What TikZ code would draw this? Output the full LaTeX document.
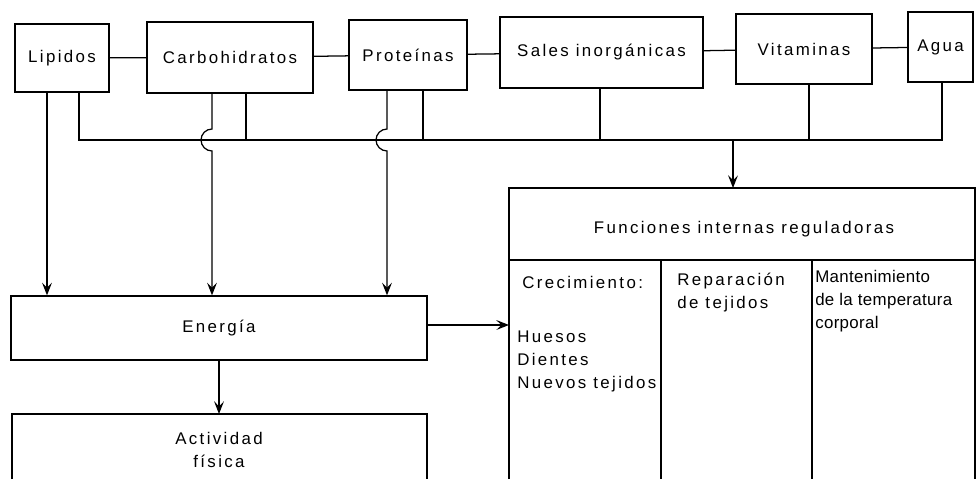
\documentclass[tikz,border=0pt]{standalone}
\usepackage{fontspec}
\setmainfont[LetterSpace=14]{Liberation Sans}
\usetikzlibrary{arrows.meta}

\tikzset{
  caja/.style={draw, line width=0.9pt, inner sep=0pt, font=\fontsize{12}{16}\selectfont},
  texto/.style={inner sep=0pt, font=\fontsize{12}{16.2}\selectfont},
  flecha/.style={line width=0.9pt, -{Stealth[length=9pt,width=7pt,inset=3.5pt]}},
  linea/.style={line width=0.9pt}
}

\begin{document}
\begin{tikzpicture}[x=0.025cm, y=-0.025cm]
    \useasboundingbox (0,0) rectangle (977,479);

    \node[caja, minimum width=2.35cm, minimum height=1.7cm] (lip) at (62,58) {Lipidos};
    \node[caja, minimum width=4.15cm, minimum height=1.775cm] (car) at (230,57.5) {Carbohidratos};
    \node[caja, minimum width=2.95cm, minimum height=1.75cm] (pro) at (408,55) {Proteínas};
    \node[caja, minimum width=5.075cm, minimum height=1.775cm] (sal) at (601.5,52.5) {Sales inorgánicas};
    \node[caja, minimum width=3.4cm, minimum height=1.75cm] (vit) at (804,49) {Vitaminas};
    \node[caja, minimum width=1.625cm, minimum height=1.75cm] (agu) at (940.5,47) {Agua};

    \draw[linea] (lip) -- (car);
    \draw[linea] (car) -- (pro);
    \draw[linea] (pro) -- (sal);
    \draw[linea] (sal) -- (vit);
    \draw[linea] (vit) -- (agu);

    \node[caja, minimum width=10.4cm, minimum height=1.6cm] (ene) at (219,328) {Energía};

    % cajas abiertas por abajo
    \draw[linea] (12,479) -- (12,414) -- (427,414) -- (427,479);
    \coordinate (act) at (219,414);
    \node[texto, align=center] (acttxt) at (219,450) {Actividad\\física};

    \draw[linea] (509,479) -- (509,188) -- (975,188) -- (975,479);
    \draw[linea] (509,260) -- (975,260);
    \draw[linea] (661,260) -- (661,479);
    \draw[linea] (812,260) -- (812,479);
    \coordinate (fun) at (733,188);
    \coordinate (funw) at (509,325);
    \node[texto] (funtxt) at (744,229) {Funciones internas reguladoras};
    \node[texto, anchor=west] (cre) at (522,282) {Crecimiento:};
    \node[texto, anchor=north west, align=left] (hue) at (517,331) {Huesos\\Dientes\\Nuevos tejidos};
    \node[texto, anchor=north west, align=left] (rep) at (677,273) {Reparación\\de tejidos};
    \node[texto, anchor=north west, align=left, font=\fontsize{12}{16.2}\selectfont\addfontfeatures{LetterSpace=2}] (man) at (815,270) {Mantenimiento\\de la temperatura\\corporal};

    % linea colectora
    \coordinate (b1) at (79,140);
    \coordinate (b2) at (942,140);
    \draw[linea] (lip.south -| b1) -- (b1) -- (b2) -- (agu.south -| b2);
    \draw[linea] (car.south -| 246,0) -- (246,140);
    \draw[linea] (pro.south -| 423,0) -- (423,140);
    \draw[linea] (sal.south -| 600,0) -- (600,140);
    \draw[linea] (vit.south -| 809,0) -- (809,140);
    \draw[flecha] (fun |- b1) -- (fun);

    % hacia energia
    \draw[flecha] (lip.south -| 47,0) -- (ene.north -| 47,0);
    \draw[flecha] (car.south -| 212,0) -- (212,129) arc[start angle=270, end angle=90, radius=11] -- (ene.north -| 212,0);
    \draw[flecha] (pro.south -| 387,0) -- (387,129) arc[start angle=270, end angle=90, radius=11] -- (ene.north -| 387,0);

    \draw[flecha] (ene.south) -- (act);
    \draw[flecha] (ene.east |- funw) -- (funw);
\end{tikzpicture}
\end{document}
